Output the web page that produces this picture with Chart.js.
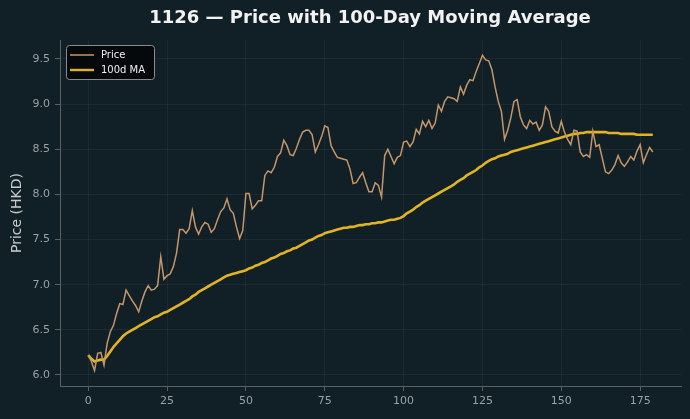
<!DOCTYPE html>
<html>
<head>
<meta charset="utf-8">
<script src="https://cdn.jsdelivr.net/npm/chart.js@4/dist/chart.umd.min.js"></script>
<style>
  html, body { margin: 0; padding: 0; background: #111f26; }
  #wrap { width: 690px; height: 419px; position: relative; }
</style>
</head>
<body>
<div id="wrap"><canvas id="c" width="690" height="419"></canvas></div>
<script>
const title = "1126 \u2014 Price with 100-Day Moving Average";
const yAxisTitle = "Price (HKD)";
const seriesNames = ["Price", "100d MA"];
const xTicks = [0, 25, 50, 75, 100, 125, 150, 175];
const yTicks = [6.0, 6.5, 7.0, 7.5, 8.0, 8.5, 9.0, 9.5];

const price = [
  6.22, 6.15, 6.05, 6.24, 6.25, 6.11, 6.35, 6.48, 6.55, 6.68,
  6.79, 6.78, 6.94, 6.88, 6.82, 6.77, 6.70, 6.82, 6.92, 6.99,
  6.94, 6.95, 6.99, 7.31, 7.06, 7.10, 7.12, 7.20, 7.35, 7.61,
  7.61, 7.57, 7.62, 7.82, 7.64, 7.56, 7.64, 7.69, 7.67, 7.58,
  7.62, 7.72, 7.81, 7.85, 7.95, 7.83, 7.79, 7.64, 7.51, 7.60,
  8.01, 8.01, 7.84, 7.88, 7.93, 7.93, 8.21, 8.26, 8.24, 8.30,
  8.42, 8.46, 8.60, 8.54, 8.44, 8.43, 8.51, 8.61, 8.69, 8.71,
  8.71, 8.66, 8.47, 8.55, 8.64, 8.76, 8.74, 8.54, 8.47, 8.41,
  8.40, 8.39, 8.38, 8.28, 8.12, 8.13, 8.19, 8.24, 8.13, 8.03,
  8.03, 8.13, 8.10, 7.97, 8.43, 8.50, 8.42, 8.34, 8.41, 8.43,
  8.58, 8.59, 8.53, 8.58, 8.72, 8.67, 8.81, 8.75, 8.82, 8.73,
  8.79, 8.99, 8.92, 9.03, 9.08, 9.07, 9.06, 9.03, 9.19, 9.11,
  9.21, 9.27, 9.26, 9.36, 9.45, 9.54, 9.49, 9.48, 9.38, 9.19,
  9.03, 8.92, 8.61, 8.71, 8.85, 9.03, 9.05, 8.86, 8.77, 8.73,
  8.82, 8.78, 8.80, 8.71, 8.77, 8.97, 8.92, 8.75, 8.70, 8.68,
  8.81, 8.69, 8.61, 8.55, 8.71, 8.70, 8.47, 8.42, 8.44, 8.41,
  8.70, 8.53, 8.55, 8.40, 8.25, 8.23, 8.27, 8.33, 8.43, 8.35,
  8.31, 8.36, 8.42, 8.38, 8.48, 8.55, 8.35, 8.44, 8.52, 8.47
];

const ma100 = [
  6.22, 6.18, 6.15, 6.16, 6.17, 6.17, 6.21, 6.26, 6.31, 6.35,
  6.39, 6.43, 6.46, 6.48, 6.50, 6.52, 6.54, 6.56, 6.58, 6.60,
  6.62, 6.64, 6.65, 6.67, 6.69, 6.70, 6.72, 6.74, 6.76, 6.78,
  6.80, 6.82, 6.84, 6.87, 6.89, 6.92, 6.94, 6.96, 6.98, 7.00,
  7.02, 7.04, 7.06, 7.08, 7.10, 7.11, 7.12, 7.13, 7.14, 7.15,
  7.16, 7.18, 7.19, 7.21, 7.22, 7.24, 7.25, 7.27, 7.29, 7.30,
  7.32, 7.34, 7.35, 7.37, 7.38, 7.40, 7.41, 7.43, 7.45, 7.47,
  7.49, 7.50, 7.52, 7.54, 7.55, 7.57, 7.58, 7.59, 7.60, 7.61,
  7.62, 7.63, 7.63, 7.64, 7.64, 7.65, 7.66, 7.66, 7.67, 7.67,
  7.68, 7.68, 7.69, 7.69, 7.70, 7.71, 7.72, 7.72, 7.73, 7.74,
  7.76, 7.79, 7.81, 7.83, 7.86, 7.88, 7.91, 7.93, 7.95, 7.97,
  7.99, 8.01, 8.03, 8.05, 8.07, 8.09, 8.11, 8.14, 8.16, 8.18,
  8.21, 8.23, 8.25, 8.27, 8.30, 8.32, 8.35, 8.37, 8.39, 8.40,
  8.42, 8.43, 8.44, 8.45, 8.47, 8.48, 8.49, 8.50, 8.51, 8.52,
  8.53, 8.54, 8.55, 8.56, 8.57, 8.58, 8.59, 8.60, 8.61, 8.62,
  8.63, 8.64, 8.65, 8.66, 8.67, 8.67, 8.68, 8.68, 8.69, 8.69,
  8.69, 8.69, 8.69, 8.69, 8.69, 8.68, 8.68, 8.68, 8.68, 8.67,
  8.67, 8.67, 8.67, 8.67, 8.66, 8.66, 8.66, 8.66, 8.66, 8.66
];

const COLORS = {
  bg: '#111f26',
  price: '#c4966a',
  ma: '#e0b422',
  grid: 'rgba(255,255,255,0.05)',
  spine: '#5a5f63',
  tick: '#9aa0a4',
  label: '#c9ccce',
  title: '#f2f2f2'
};
const FONT = "'DejaVu Sans', sans-serif";

const priceData = price.map((v, i) => ({ x: i, y: v }));
const maData = ma100.map((v, i) => ({ x: i, y: v }));

const bgPlugin = {
  id: 'bg',
  beforeDraw(chart) {
    const ctx = chart.ctx;
    ctx.save();
    ctx.fillStyle = COLORS.bg;
    ctx.fillRect(0, 0, chart.width, chart.height);
    ctx.restore();
  }
};

const titlePlugin = {
  id: 'customTitle',
  afterDraw(chart) {
    const ctx = chart.ctx;
    ctx.save();
    ctx.fillStyle = COLORS.title;
    ctx.font = "bold 18px " + FONT;
    ctx.textAlign = 'center';
    ctx.textBaseline = 'middle';
    ctx.fillText(title, 370, 18);
    ctx.restore();
  }
};

const legendPlugin = {
  id: 'customLegend',
  afterDraw(chart) {
    const ctx = chart.ctx;
    const x = 66.5, y = 45.5, w = 88, h = 34, r = 3;
    ctx.save();
    ctx.beginPath();
    ctx.moveTo(x + r, y);
    ctx.lineTo(x + w - r, y);
    ctx.quadraticCurveTo(x + w, y, x + w, y + r);
    ctx.lineTo(x + w, y + h - r);
    ctx.quadraticCurveTo(x + w, y + h, x + w - r, y + h);
    ctx.lineTo(x + r, y + h);
    ctx.quadraticCurveTo(x, y + h, x, y + h - r);
    ctx.lineTo(x, y + r);
    ctx.quadraticCurveTo(x, y, x + r, y);
    ctx.closePath();
    ctx.fillStyle = 'rgba(5,8,10,0.92)';
    ctx.fill();
    ctx.strokeStyle = '#8a8d8f';
    ctx.lineWidth = 1;
    ctx.stroke();

    const items = [
      { name: seriesNames[0], color: COLORS.price, lw: 1.5, yy: 55 },
      { name: seriesNames[1], color: COLORS.ma, lw: 2.4, yy: 70 }
    ];
    ctx.font = "10px " + FONT;
    ctx.textBaseline = 'middle';
    ctx.textAlign = 'left';
    items.forEach(it => {
      ctx.beginPath();
      ctx.moveTo(70, it.yy);
      ctx.lineTo(94, it.yy);
      ctx.strokeStyle = it.color;
      ctx.lineWidth = it.lw;
      ctx.stroke();
      ctx.fillStyle = '#eeeeee';
      ctx.fillText(it.name, 101, it.yy);
    });
    ctx.restore();
  }
};

new Chart(document.getElementById('c'), {
  type: 'line',
  data: {
    datasets: [
      {
        label: seriesNames[0],
        data: priceData,
        borderColor: COLORS.price,
        borderWidth: 1.5,
        pointRadius: 0,
        tension: 0,
        fill: false
      },
      {
        label: seriesNames[1],
        data: maData,
        borderColor: COLORS.ma,
        borderWidth: 2.6,
        pointRadius: 0,
        tension: 0,
        fill: false
      }
    ]
  },
  plugins: [bgPlugin, titlePlugin, legendPlugin],
  options: {
    responsive: false,
    animation: false,
    layout: { padding: { top: 40, right: 9, left: 0, bottom: 0 } },
    plugins: {
      legend: { display: false },
      title: { display: false },
      tooltip: { enabled: false }
    },
    scales: {
      x: {
        type: 'linear',
        min: -8.95,
        max: 187.95,
        afterBuildTicks(scale) { scale.ticks = xTicks.map(v => ({ value: v })); },
        afterFit(scale) { scale.height = 33; },
        ticks: {
          color: COLORS.tick,
          font: { family: FONT, size: 11 },
          padding: 4,
          maxRotation: 0,
          callback: v => String(v)
        },
        grid: {
          color: COLORS.grid,
          tickColor: COLORS.spine,
          tickLength: 5,
          drawTicks: true
        },
        border: { display: true, color: COLORS.spine, width: 1 }
      },
      y: {
        type: 'linear',
        min: 5.878,
        max: 9.71,
        afterBuildTicks(scale) { scale.ticks = yTicks.map(v => ({ value: v })); },
        afterFit(scale) { scale.width = 60; },
        title: {
          display: true,
          text: yAxisTitle,
          color: COLORS.label,
          font: { family: FONT, size: 14 },
          padding: { top: 9, bottom: 0 }
        },
        ticks: {
          color: COLORS.tick,
          font: { family: FONT, size: 11 },
          padding: 5,
          callback: v => Number(v).toFixed(1)
        },
        grid: {
          color: COLORS.grid,
          tickColor: COLORS.spine,
          tickLength: 5,
          drawTicks: true
        },
        border: { display: true, color: COLORS.spine, width: 1 }
      }
    }
  }
});
</script>
</body>
</html>
